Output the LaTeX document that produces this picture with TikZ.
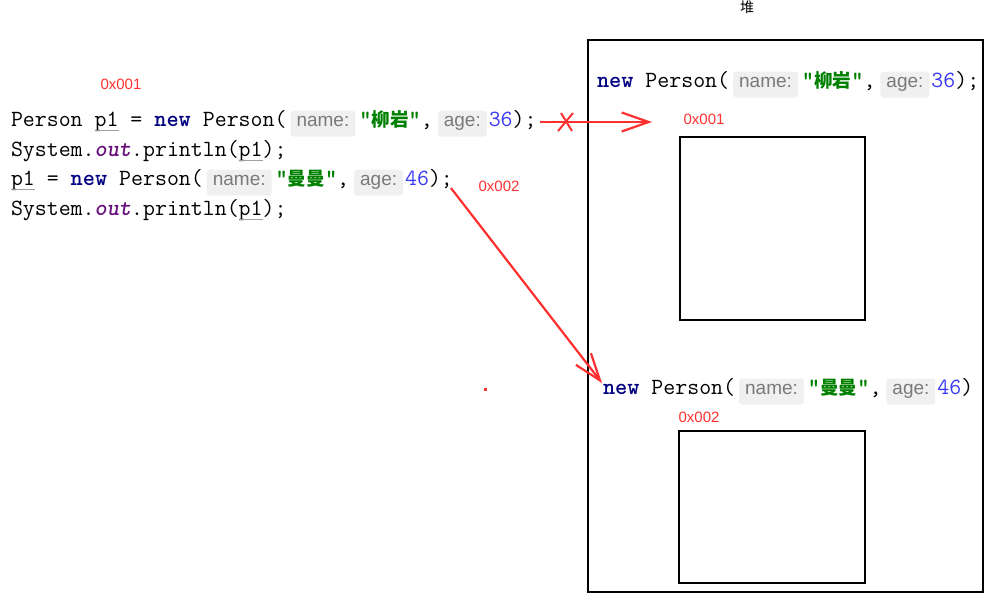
\documentclass[tikz,border=0pt]{standalone}
\usepackage{fontspec}
\usetikzlibrary{arrows.meta,calc}
\newcommand\codefont{\ttfamily\fontsize{23.2}{26}\selectfont}
\newfontfamily\sansfam{Liberation Sans}
\newfontfamily\cjk{Noto Sans CJK SC}
\definecolor{kwblue}{HTML}{000080}
\definecolor{strgreen}{HTML}{008000}
\definecolor{numblue}{HTML}{3A3AF4}
\definecolor{outpurple}{HTML}{660E7A}
\definecolor{hintgray}{HTML}{7A7A7A}
\definecolor{hintbg}{HTML}{F0F0F0}
\definecolor{addr}{HTML}{FF3030}
\newcommand\cjkstr[1]{{\cjk\fontsize{18.6}{22}\selectfont #1}}
\tikzset{
  code/.style={font=\codefont, inner sep=0pt, outer sep=0pt, anchor=base west, text=black},
  kw/.style={code, font=\codefont\bfseries, text=kwblue},
  strg/.style={code, font=\codefont\bfseries, text=strgreen},
  num/.style={code, text=numblue},
  outkw/.style={code, font=\codefont\bfseries\itshape, text=outpurple},
  hintbox/.style={font=\sansfam\fontsize{19}{22}\selectfont, text=hintgray, fill=hintbg, rounded corners=3pt, inner xsep=6pt, inner ysep=3pt, text height=12.5pt, text depth=7.5pt, anchor=base west, outer sep=0pt},
  addrlabel/.style={font=\sansfam\fontsize{15}{18}\selectfont, text=addr, inner sep=0pt},
  ul/.style={draw=gray!75, line width=0.8pt},
  redline/.style={draw=addr, line width=2.2pt},
  barb/.style={-{Straight Barb[length=27pt,width=19pt]}},
  objbox/.style={draw=black, line width=2pt, anchor=north west, inner sep=0pt, outer sep=0pt},
}
\begin{document}
\begin{tikzpicture}[x=1pt,y=-1pt]
\useasboundingbox (0,0) rectangle (1006,600);
% heap
\node[font=\cjk\fontsize{14}{16}\selectfont, inner sep=0pt] (heaplabel) at (747,7) {堆};
\node[draw=black, line width=2.8pt, minimum width=395, minimum height=552, anchor=north west, inner sep=0pt, outer sep=0pt] (heap) at (588,40) {};
\node[objbox, minimum width=185, minimum height=183] (obj1) at (680,137) {};
\node[objbox, minimum width=186, minimum height=152] (obj2) at (679,431) {};
% line 1
\node[code] (a1) at (11,126) {Person~\null};
\node[code] (a2) at (a1.base east) {p1};
\node[code] (a3) at (a2.base east) {~=~\null};
\node[kw] (a4) at (a3.base east) {new};
\node[code] (a5) at (a4.base east) {~Person(};
\node[hintbox, xshift=4pt] (a6) at (a5.base east) {name:};
\node[strg, xshift=4pt] (a7) at (a6.base east) {"\cjkstr{柳岩}"};
\node[code] (a8) at (a7.base east) {,};
\node[hintbox, xshift=5pt] (a9) at (a8.base east) {age:};
\node[num, xshift=2pt] (a10) at (a9.base east) {36};
\node[code] (a11) at (a10.base east) {);};
% line 2
\node[code] (b1) at (11,156) {System.};
\node[outkw] (b2) at (b1.base east) {out};
\node[code] (b3) at (b2.base east) {.println(};
\node[code] (b4) at (b3.base east) {p1};
\node[code] (b5) at (b4.base east) {);};
% line 3
\node[code] (c1) at (11,185) {p1};
\node[code] (c2) at (c1.base east) {~=~\null};
\node[kw] (c3) at (c2.base east) {new};
\node[code] (c4) at (c3.base east) {~Person(};
\node[hintbox, xshift=4pt] (c5) at (c4.base east) {name:};
\node[strg, xshift=4pt] (c6) at (c5.base east) {"\cjkstr{曼曼}"};
\node[code] (c7) at (c6.base east) {,};
\node[hintbox, xshift=5pt] (c8) at (c7.base east) {age:};
\node[num, xshift=2pt] (c9) at (c8.base east) {46};
\node[code] (c10) at (c9.base east) {);};
% line 4
\node[code] (d1) at (11,215) {System.};
\node[outkw] (d2) at (d1.base east) {out};
\node[code] (d3) at (d2.base east) {.println(};
\node[code] (d4) at (d3.base east) {p1};
\node[code] (d5) at (d4.base east) {);};
% underlines
\draw[ul] ($(a2.base west)+(0,4)$) -- ($(a2.base east)+(0,4)$);
\draw[ul] ($(b4.base west)+(0,4)$) -- ($(b4.base east)+(0,4)$);
\draw[ul] ($(c1.base west)+(0,4)$) -- ($(c1.base east)+(0,4)$);
\draw[ul] ($(d4.base west)+(0,4)$) -- ($(d4.base east)+(0,4)$);
% heap line 1
\node[kw] (r1) at (597,87) {new};
\node[code] (r2) at (r1.base east) {~Person(};
\node[hintbox, xshift=4pt] (r3) at (r2.base east) {name:};
\node[strg, xshift=4pt] (r4) at (r3.base east) {"\cjkstr{柳岩}"};
\node[code] (r5) at (r4.base east) {,};
\node[hintbox, xshift=5pt] (r6) at (r5.base east) {age:};
\node[num, xshift=2pt] (r7) at (r6.base east) {36};
\node[code] (r8) at (r7.base east) {);};
% heap line 2
\node[kw] (s1n) at (603,394) {new};
\node[code] (s2n) at (s1n.base east) {~Person(};
\node[hintbox, xshift=4pt] (s3n) at (s2n.base east) {name:};
\node[strg, xshift=4pt] (s4n) at (s3n.base east) {"\cjkstr{曼曼}"};
\node[code] (s5n) at (s4n.base east) {,};
\node[hintbox, xshift=5pt] (s6n) at (s5n.base east) {age:};
\node[num, xshift=2pt] (s7n) at (s6n.base east) {46};
\node[code] (s8n) at (s7n.base east) {)};
% address labels
\node[addrlabel] (L1) at (121,84) {0x001};
\node[addrlabel] (L2) at (499,186) {0x002};
\node[addrlabel] (L3) at (704,119) {0x001};
\node[addrlabel] (L4) at (699,417) {0x002};
% arrows
\coordinate (st1) at ($(a11.base east)+(3,-4)$);
\coordinate (en1) at (652,122);
\draw[redline, barb] (st1) -- (en1);
\coordinate (x1) at (566,122);
\draw[redline, line width=2pt] ($(x1)+(-8,9)$) -- ($(x1)+(7,-9)$);
\draw[redline, line width=2pt] ($(x1)+(-5,-9)$) -- ($(x1)+(6,9)$);
\coordinate (st2) at ($(c10.base east)+(-2,3)$);
\coordinate (en2) at ($(s1n.base west)+(-1,-11)$);
\draw[redline, barb] (st2) -- (en2);
\node[fill=addr, minimum size=3pt, inner sep=0pt] (dot) at (485,389) {};
\end{tikzpicture}
\end{document}
